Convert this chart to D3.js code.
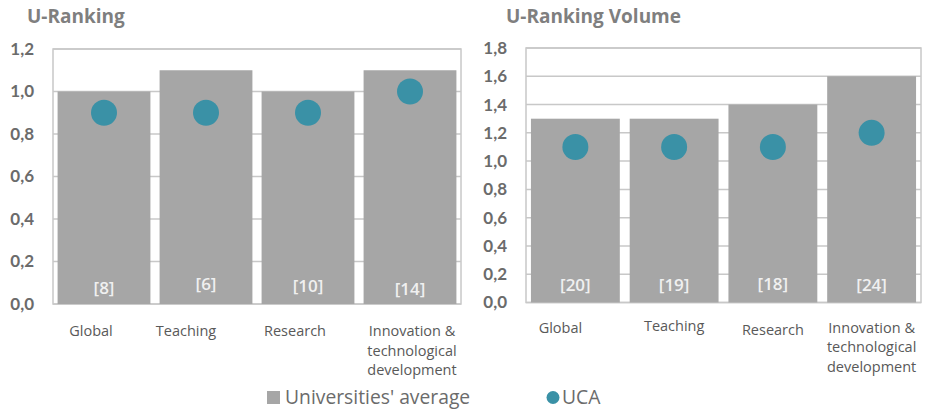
<!DOCTYPE html>
<html>
<head>
<meta charset="utf-8">
<script src="https://cdn.jsdelivr.net/npm/d3@7"></script>
<style>
  body { margin: 0; background: #fff; }
  text { font-family: "Open Sans", Lato, sans-serif; }
</style>
</head>
<body>
<div id="viz"></div>
<script>
// data
var categories = ["Global", "Teaching", "Research", "Innovation & technological development"];
var rankAverage = [1.0, 1.1, 1.0, 1.1];
var rankUCA = [0.9, 0.9, 0.9, 1.0];
var rankPositions = ["[8]", "[6]", "[10]", "[14]"];
var volAverage = [1.3, 1.3, 1.4, 1.6];
var volUCA = [1.1, 1.1, 1.1, 1.2];
var volPositions = ["[20]", "[19]", "[18]", "[24]"];
var rankTicks = [0, 0.2, 0.4, 0.6, 0.8, 1.0, 1.2];
var volTicks = [0, 0.2, 0.4, 0.6, 0.8, 1.0, 1.2, 1.4, 1.6, 1.8];

var barColor = "#a6a6a6", dotColor = "#3a91a6", gridColor = "#c8c8c8";
var fmt = function(v) { return v.toFixed(1).replace(".", ","); };

var svg = d3.select("#viz")
  .append("svg")
  .attr("width", 932)
  .attr("height", 409);

function drawChart(opt) {
  var x = d3.scaleBand().domain(categories).range([opt.left, opt.right])
    .paddingInner(opt.pad).paddingOuter(opt.pad / 2);
  var y = d3.scaleLinear().domain([0, d3.max(opt.ticks)]).range([opt.bottom, opt.top]);
  var g = svg.append("g");

  // title
  g.append("text")
    .attr("x", opt.titleX).attr("y", 23)
    .style("font-size", "19px").style("font-weight", "bold")
    .style("fill", "#7f7f7f")
    .text(opt.title);

  // gridlines
  g.selectAll(".grid").data(opt.ticks).enter()
    .append("line")
    .attr("x1", opt.left).attr("x2", opt.right)
    .attr("y1", function(d) { return y(d); })
    .attr("y2", function(d) { return y(d); })
    .style("stroke", gridColor).style("stroke-width", 1.5);

  // frame
  g.append("rect")
    .attr("x", opt.left).attr("y", opt.top)
    .attr("width", opt.right - opt.left).attr("height", opt.bottom - opt.top)
    .style("fill", "none").style("stroke", gridColor).style("stroke-width", 1.5);

  // y tick labels
  g.selectAll(".ytick").data(opt.ticks).enter()
    .append("text")
    .attr("x", opt.left - 19).attr("y", function(d) { return y(d); })
    .attr("dy", "0.35em")
    .attr("text-anchor", "end")
    .style("font-family", "Lato, sans-serif")
    .style("font-size", "17px").style("font-weight", "bold")
    .style("fill", "#6b6b6b")
    .text(fmt);

  // bars
  g.selectAll(".bar").data(opt.avg).enter()
    .append("rect")
    .attr("x", function(d, i) { return x(categories[i]); })
    .attr("width", x.bandwidth())
    .attr("y", function(d) { return y(d); })
    .attr("height", function(d) { return y(0) - y(d); })
    .style("fill", barColor);

  // bracket labels inside bars
  g.selectAll(".pos").data(opt.positions).enter()
    .append("text")
    .attr("x", function(d, i) { return x(categories[i]) + x.bandwidth() / 2; })
    .attr("y", function(d, i) { return opt.bottom - 17 + opt.posDy[i]; })
    .attr("dy", "0.35em")
    .attr("text-anchor", "middle")
    .style("font-size", "17px").style("font-weight", 600)
    .style("fill", "#f0f0f0")
    .text(function(d) { return d; });

  // UCA dots
  g.selectAll(".dot").data(opt.uca).enter()
    .append("circle")
    .attr("cx", function(d, i) { return x(categories[i]) + x.bandwidth() / 2; })
    .attr("cy", function(d) { return y(d); })
    .attr("r", 13)
    .style("fill", dotColor);

  // category labels
  var lab = g.selectAll(".cat").data(categories).enter()
    .append("text")
    .attr("text-anchor", "middle")
    .attr("transform", function(d, i) {
      return "translate(" + (x(d) + x.bandwidth() / 2 + opt.labDx[i]) + "," + (opt.bottom + 27 + opt.labDy[i]) + ")";
    })
    .style("font-size", "14.5px")
    .style("fill", "#595959");
  lab.each(function(d) {
    var lines = d === "Innovation & technological development"
      ? ["Innovation &", "technological", "development"] : [d];
    var t = d3.select(this);
    lines.forEach(function(l, k) {
      t.append("tspan").attr("x", 0).attr("y", k * 19.5).attr("dy", "0.35em").text(l);
    });
  });
}

drawChart({
  title: "U-Ranking", titleX: 27,
  left: 53, right: 461, top: 49, bottom: 304, pad: 0.09,
  ticks: rankTicks, avg: rankAverage, uca: rankUCA, positions: rankPositions,
  posDy: [1, -3, -1, 2], labDx: [-13, -20, -13, 2], labDy: [0, 0, 0, 0]
});
drawChart({
  title: "U-Ranking Volume", titleX: 506,
  left: 526, right: 921, top: 48, bottom: 302.5, pad: 0.1,
  ticks: volTicks, avg: volAverage, uca: volUCA, positions: volPositions,
  posDy: [0, 0, -1, 0], labDx: [-15, 0, 0, 0], labDy: [-2, -4, 0, -2]
});

// legend
var leg = svg.append("g");
leg.append("rect").attr("x", 267).attr("y", 391).attr("width", 13).attr("height", 13)
  .style("fill", barColor);
leg.append("text").attr("x", 285).attr("y", 397.5).attr("dy", "0.35em")
  .style("font-size", "19.3px").style("fill", "#6b6b6b")
  .text("Universities' average");
leg.append("circle").attr("cx", 553).attr("cy", 397.5).attr("r", 6.5)
  .style("fill", dotColor);
leg.append("text").attr("x", 562).attr("y", 397.5).attr("dy", "0.35em")
  .style("font-size", "19.3px").style("fill", "#6b6b6b")
  .text("UCA");
</script>
</body>
</html>
